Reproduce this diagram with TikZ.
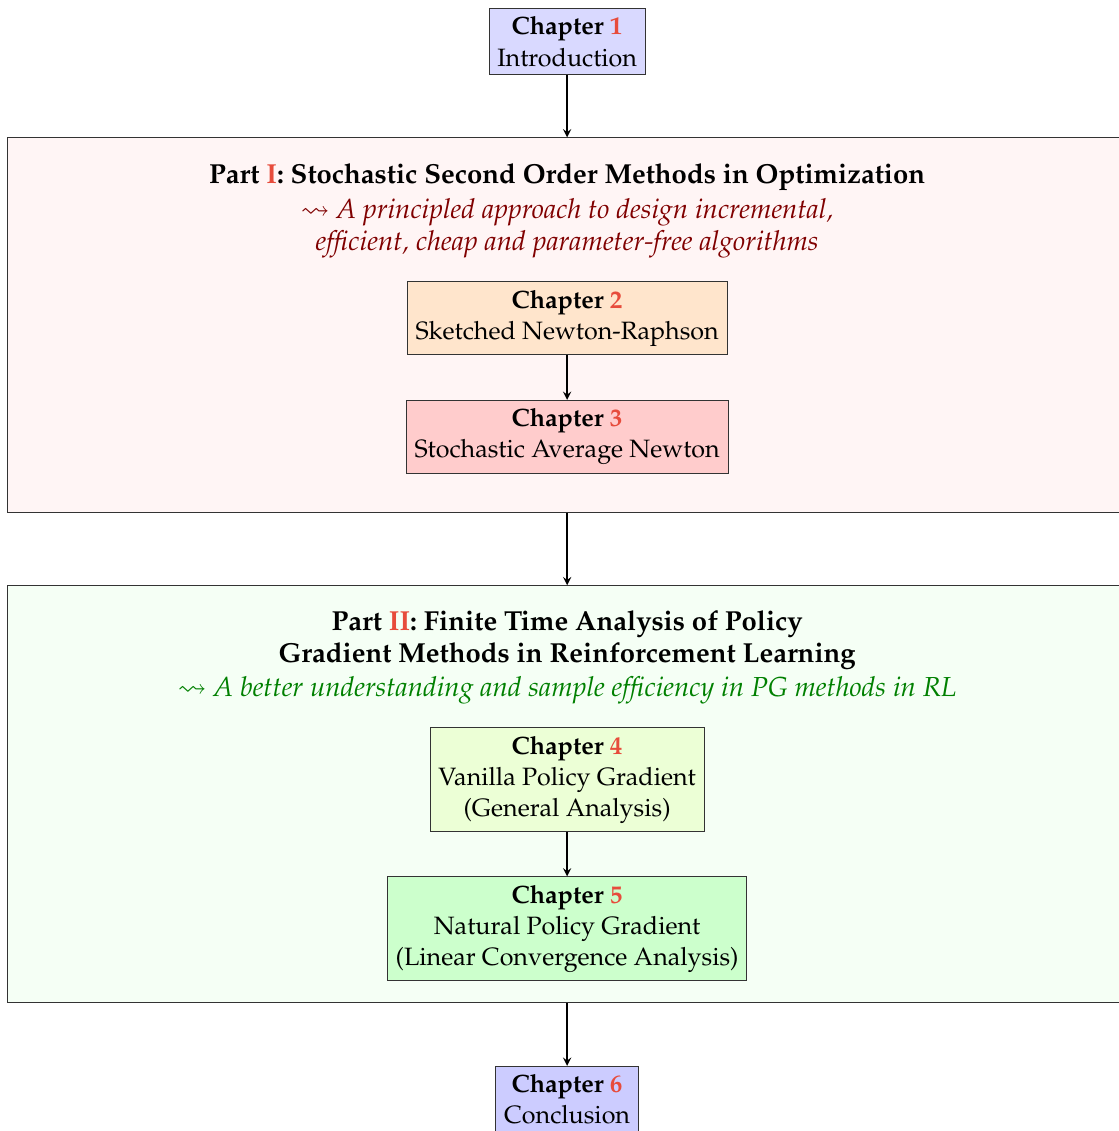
\documentclass[tikz,border=0pt,11pt]{standalone}
\usepackage[T1]{fontenc}
\usepackage{mathpazo}
\usepackage{amssymb}
\usetikzlibrary{positioning}

\definecolor{numred}{RGB}{231,76,60}
\definecolor{subred}{RGB}{128,0,0}
\definecolor{subgreen}{RGB}{0,128,0}
\definecolor{chapfour}{RGB}{236,255,214}

\tikzset{
	chapbox/.style={draw=black!80, align=center, inner sep=3.6pt},
	partbox/.style={draw=black!80, minimum width=17.16cm},
	parttitle/.style={align=center, font=\large\bfseries},
	partsub/.style={align=center, font=\large\itshape},
	flow/.style={->, >=stealth, semithick},
}

\newcommand{\chapnum}[1]{\textbf{Chapter \textcolor{numred}{#1}}}

\begin{document}
\begin{tikzpicture}
		\useasboundingbox (0,0) rectangle (17.16,-17.35);

		% Part boxes
		\node[partbox, fill=red!4, minimum height=5.74cm] (p1) at (8.70,-4.985) {};
		\node[partbox, fill=green!4, minimum height=6.40cm] (p2) at (8.70,-12.185) {};

		% Part titles
		\node[parttitle] (t1) at (8.70,-2.72) {Part \textcolor{numred}{I}: Stochastic Second Order Methods in Optimization};
		\node[partsub, text=subred] (s1) at (8.70,-3.51) {$\leadsto$ A principled approach to design incremental,\\ efficient, cheap and parameter-free algorithms};
		\node[parttitle] (t2) at (8.70,-9.82) {Part \textcolor{numred}{II}: Finite Time Analysis of Policy\\ Gradient Methods in Reinforcement Learning};
		\node[partsub, text=subgreen] (s2) at (8.70,-10.59) {$\leadsto$ A better understanding and sample efficiency in PG methods in RL};

		% Chapters
		\node[chapbox, fill=blue!15] (c1) at (8.70,-0.64) {\chapnum{1}\\ Introduction};
		\node[chapbox, fill=orange!20] (c2) at (8.70,-4.88) {\chapnum{2}\\ Sketched Newton-Raphson};
		\node[chapbox, fill=red!20] (c3) at (8.70,-6.70) {\chapnum{3}\\ Stochastic Average Newton};
		\node[chapbox, fill=chapfour] (c4) at (8.70,-11.96) {\chapnum{4}\\ Vanilla Policy Gradient\\ (General Analysis)};
		\node[chapbox, fill=green!20] (c5) at (8.70,-14.25) {\chapnum{5}\\ Natural Policy Gradient\\ (Linear Convergence Analysis)};
		\node[chapbox, fill=blue!20, anchor=north] (c6) at (8.70,-16.35) {\chapnum{6}\\ Conclusion};

		% Arrows
		\draw[flow] (c1) -- (p1);
		\draw[flow] (c2) -- (c3);
		\draw[flow] (p1) -- (p2);
		\draw[flow] (c4) -- (c5);
		\draw[flow] (p2) -- (c6);
	\end{tikzpicture}
\end{document}
